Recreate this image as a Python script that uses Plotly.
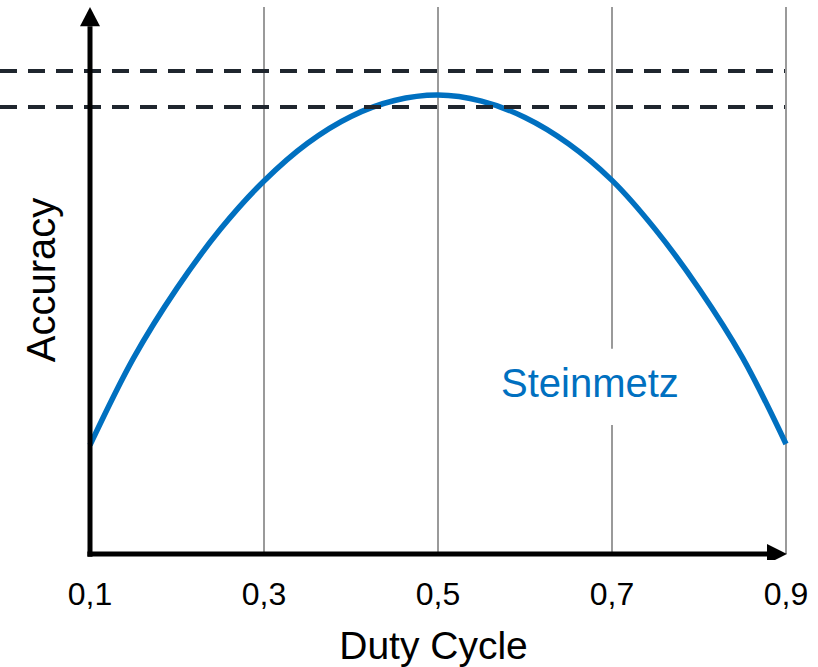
import plotly.graph_objects as go

# Duty cycle sweep and the resulting accuracy of the Steinmetz model
duty_cycle = [0.10, 0.15, 0.20, 0.25, 0.30, 0.35, 0.40, 0.45, 0.50,
              0.55, 0.60, 0.65, 0.70, 0.75, 0.80, 0.85, 0.90]
accuracy = [19.9, 35.8, 48.6, 59.4, 68.2, 75.1, 80.0, 82.9, 83.9,
            82.8, 79.8, 75.0, 68.3, 59.3, 48.5, 35.9, 20.1]

# Reference levels (dashed)
ref_levels = [88.3, 81.7]

# Axis ticks
tick_vals = [0.1, 0.3, 0.5, 0.7, 0.9]
tick_text = ["0,1", "0,3", "0,5", "0,7", "0,9"]
grid_vals = [0.3, 0.5, 0.7, 0.9]

series_name = "Steinmetz"
label_pos = (0.6747, 31.3)

BLUE = "#0070c0"
GRID = "#9a9a9a"
DASH = "#1f262e"
FONT = "Liberation Sans, Arial, sans-serif"

M_L, M_R = 69, 20
PLOT_W = 818 - M_L - M_R
X_RANGE = [0.075862, 0.913793]
Y_RANGE = [-1.0969, 101.2797]
Y_TOP = 100.0

fig = go.Figure()

fig.add_trace(go.Scatter(
    x=duty_cycle, y=accuracy, mode="lines",
    line=dict(color=BLUE, width=5.5, shape="spline", smoothing=1.0),
    showlegend=False, hoverinfo="skip",
))

shapes = []

# vertical grid lines; the one behind the label is split around it
for gx in grid_vals:
    if gx == 0.7:
        shapes.append(dict(type="line", xref="x", yref="y", x0=gx, x1=gx, y0=0, y1=23.6,
                           line=dict(color=GRID, width=2), layer="below"))
        shapes.append(dict(type="line", xref="x", yref="y", x0=gx, x1=gx, y0=37.5, y1=Y_TOP,
                           line=dict(color=GRID, width=2), layer="below"))
    else:
        shapes.append(dict(type="line", xref="x", yref="y", x0=gx, x1=gx, y0=0, y1=Y_TOP,
                           line=dict(color=GRID, width=2), layer="below"))

# dashed reference levels running in from the left edge
for lv in ref_levels:
    shapes.append(dict(type="line", xref="paper", yref="y", x0=-M_L / PLOT_W,
                       x1=(785 - M_L) / PLOT_W,
                       y0=lv, y1=lv, line=dict(color=DASH, width=4, dash="17px,11px"),
                       layer="above"))

# axis lines with arrowheads
x0 = tick_vals[0]
x_end = tick_vals[-1]
hw_x = 10 / 870
hw_y = 10 / 5.47
y_base = 96.5
x_base = 0.8782
shapes.append(dict(type="line", xref="x", yref="y", x0=x0, x1=x0, y0=-0.5, y1=y_base,
                   line=dict(color="black", width=5), layer="above"))
shapes.append(dict(type="line", xref="x", yref="y", x0=x0 - 0.003, x1=x_base, y0=0, y1=0,
                   line=dict(color="black", width=5), layer="above"))
shapes.append(dict(type="path", xref="x", yref="y",
                   path=f"M {x0 - hw_x},{y_base} L {x0},{Y_TOP} L {x0 + hw_x},{y_base} Z",
                   fillcolor="black", line=dict(width=0), layer="above"))
shapes.append(dict(type="path", xref="x", yref="y",
                   path=f"M {x_base},{-hw_y} L {x_end + 0.0011},0 L {x_base},{hw_y} Z",
                   fillcolor="black", line=dict(width=0), layer="above"))

fig.update_layout(
    width=818, height=667,
    margin=dict(l=M_L, r=M_R, t=0, b=107),
    paper_bgcolor="white", plot_bgcolor="white",
    shapes=shapes,
    font=dict(family=FONT, color="black"),
    xaxis=dict(
        range=X_RANGE, showgrid=False, zeroline=False, showline=False,
        tickmode="array", tickvals=tick_vals, ticktext=tick_text,
        ticks="outside", ticklen=6, tickcolor="rgba(0,0,0,0)",
        tickfont=dict(size=32, family=FONT, color="black"),
        title=dict(text="Duty Cycle", font=dict(size=39, family=FONT, color="black"), standoff=20),
        automargin=False, fixedrange=True,
    ),
    yaxis=dict(
        range=Y_RANGE, showgrid=False, zeroline=False, showline=False,
        showticklabels=False, ticks="",
        title=dict(text="Accuracy", font=dict(size=40, family=FONT, color="black"), standoff=0),
        automargin=False, fixedrange=True,
    ),
    annotations=[dict(
        x=label_pos[0], y=label_pos[1], xref="x", yref="y", text=series_name,
        showarrow=False, font=dict(size=40, family=FONT, color=BLUE),
    )],
)

fig.write_html("out.html")
